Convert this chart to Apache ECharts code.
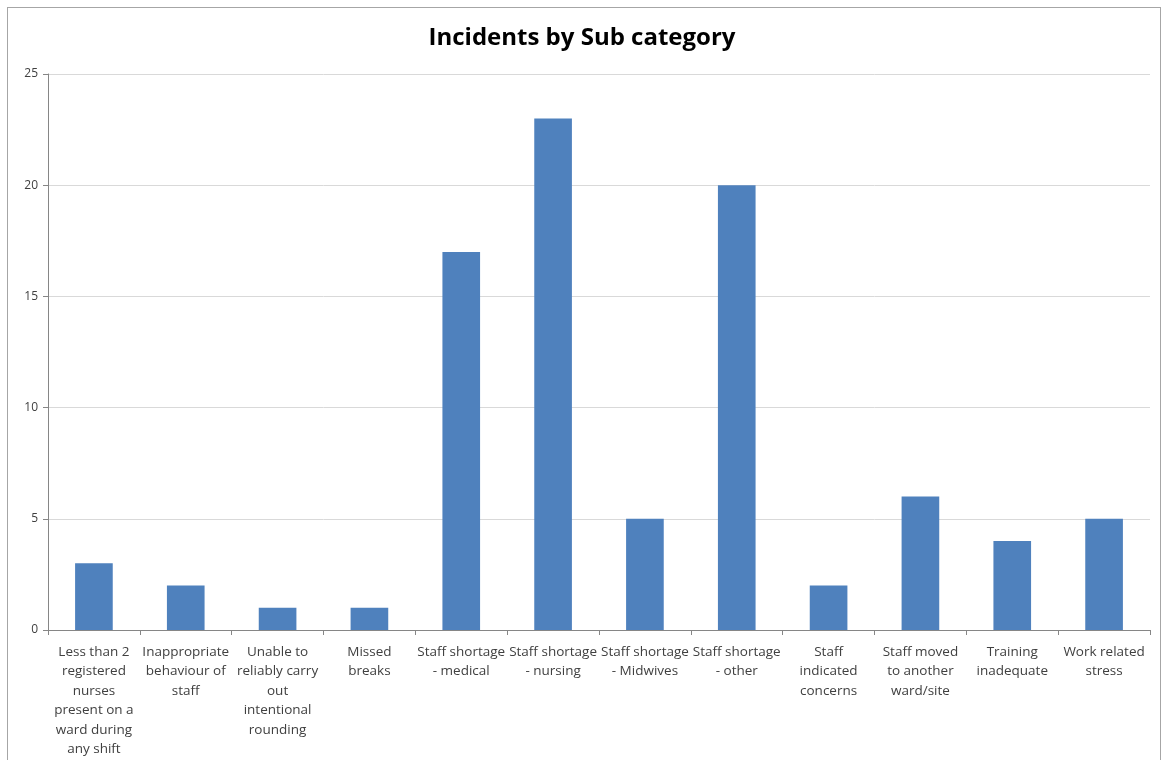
<!DOCTYPE html>
<html>
<head>
<meta charset="utf-8">
<script src="https://cdn.jsdelivr.net/npm/echarts@6/dist/echarts.min.js"></script>
<style>
  html, body { margin: 0; padding: 0; background: #fff; }
  #chart { width: 1164px; height: 760px; }
  #frame { position: absolute; left: 7px; top: 7px; width: 1152px; height: 800px;
           border: 1px solid #a6a6a6; pointer-events: none; }
</style>
</head>
<body>
<div id="chart"></div>
<div id="frame"></div>
<script>
var categories = [
  'Less than 2\nregistered\nnurses\npresent on a\nward during\nany shift',
  'Inappropriate\nbehaviour of\nstaff',
  'Unable to\nreliably carry\nout\nintentional\nrounding',
  'Missed\nbreaks',
  'Staff shortage\n- medical',
  'Staff shortage\n- nursing',
  'Staff shortage\n- Midwives',
  'Staff shortage\n- other',
  'Staff\nindicated\nconcerns',
  'Staff moved\nto another\nward/site',
  'Training\ninadequate',
  'Work related\nstress'
];
var incidents = [3, 2, 1, 1, 17, 23, 5, 20, 2, 6, 4, 5];

function makeOption() {
  var option = {
    animation: false,
    title: {
      text: 'Incidents by Sub category',
      left: 'center',
      top: 21,
      textStyle: {
        fontFamily: 'Open Sans',
        fontWeight: 'bold',
        fontSize: 24,
        color: '#000'
      }
    },
    grid: { left: 48, right: 14, top: 74, bottom: 130 },
    xAxis: {
      type: 'category',
      data: categories,
      axisLine: { lineStyle: { color: '#868686' } },
      axisTick: { show: true, length: 5, lineStyle: { color: '#868686' } },
      axisLabel: {
        interval: 0,
        margin: 12,
        fontFamily: 'Open Sans',
        fontSize: 13.5,
        lineHeight: 19.5,
        color: '#404040'
      }
    },
    yAxis: {
      type: 'value',
      min: 0,
      max: 25,
      interval: 5,
      axisLine: { show: true, lineStyle: { color: '#868686' } },
      axisTick: { show: true, length: 5, lineStyle: { color: '#868686' } },
      splitLine: { lineStyle: { color: '#d9d9d9' } },
      axisLabel: {
        margin: 10,
        fontFamily: 'Open Sans',
        fontSize: 12,
        color: '#404040'
      }
    },
    series: [{
      type: 'bar',
      data: incidents,
      barWidth: '41%',
      itemStyle: { color: '#4f81bd' }
    }]
  };
  return option;
}

var myChart = echarts.init(document.getElementById('chart'));
myChart.setOption(makeOption());
</script>
</body>
</html>
